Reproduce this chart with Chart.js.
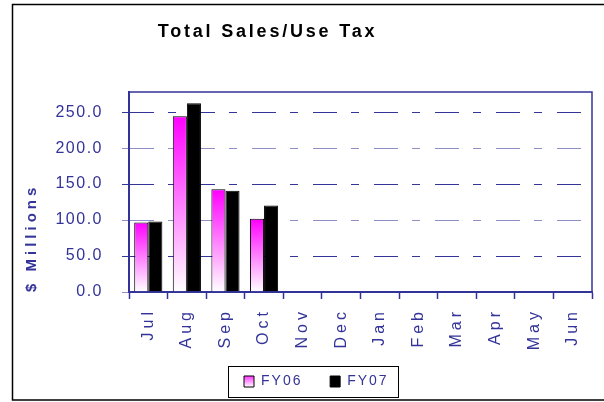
<!DOCTYPE html>
<html>
<head>
<meta charset="utf-8">
<script src="https://cdn.jsdelivr.net/npm/chart.js@4/dist/chart.umd.min.js"></script>
<style>
  html, body { margin: 0; padding: 0; background: #fff; }
  canvas { display: block; }
</style>
</head>
<body>
<canvas id="chart" width="604" height="402"></canvas>
<script>
const months = ['Jul', 'Aug', 'Sep', 'Oct', 'Nov', 'Dec', 'Jan', 'Feb', 'Mar', 'Apr', 'May', 'Jun'];
const fy06 = [96.7, 244.4, 142.7, 101.7, null, null, null, null, null, null, null, null];
const fy07 = [98.1, 262.5, 140.8, 120.4, null, null, null, null, null, null, null, null];
const seriesNames = ['FY06', 'FY07'];
const yMax = 278;
const yStep = 50;
const titleText = 'Total Sales/Use Tax';
const yTitle = '$ Millions';

const NAVY = '#333399';
const FONT = '"Liberation Sans", Arial, sans-serif';

Chart.defaults.font.family = FONT;
Chart.defaults.color = NAVY;

// magenta at the top of each bar fading to white at the base
function barGradient(c) {
  const chart = c.chart;
  const y = chart.scales.y;
  if (!y || c.raw == null) return '#ff00ff';
  const top = y.getPixelForValue(c.raw);
  const bottom = y.getPixelForValue(0);
  if (!isFinite(top) || !isFinite(bottom)) return '#ff00ff';
  const g = chart.ctx.createLinearGradient(0, top, 0, bottom);
  g.addColorStop(0, '#ff00ff');
  g.addColorStop(1, '#ffffff');
  return g;
}

function legendGradient(chart) {
  const lg = chart.legend;
  if (!lg || lg.top == null) return '#ff99ff';
  const top = lg.top + 11.5;
  const g = chart.ctx.createLinearGradient(0, top, 0, top + 11);
  g.addColorStop(0, '#ff33ff');
  g.addColorStop(1, '#ffffff');
  return g;
}

// draw a scale part with its own letter spacing
function spaced(scale, method, spacing) {
  if (scale['_sp_' + method]) return;
  const orig = scale[method];
  scale[method] = function (...args) {
    const ctx = this.ctx;
    ctx.save();
    ctx.letterSpacing = spacing;
    orig.apply(this, args);
    ctx.restore();
  };
  scale['_sp_' + method] = true;
}

const decor = {
  id: 'decor',
  beforeInit(chart) {
    const legend = chart.legend;
    const fit = legend.fit;
    legend.fit = function () { fit.call(this); this.height = 33.5; };
  },
  beforeUpdate(chart) { chart.ctx.letterSpacing = '2px'; },
  afterLayout(chart) {
    const lg = chart.legend;
    const pad = lg.options.labels.padding;
    const lineW = lg.legendHitBoxes.reduce((s, h) => s + h.width + pad, 0);
    const start = (lg.left + pad + lg.right - lineW) / 2;
    const dx = 244 - start;
    lg.left += dx;
    lg.right += dx;
    spaced(chart.scales.x, 'drawLabels', '4px');
    spaced(chart.scales.y, 'drawLabels', '1.5px');
    spaced(chart.scales.y, 'drawTitle', '4px');
  },
  beforeDraw(chart) { chart.ctx.letterSpacing = '2px'; },
  afterDraw(chart) {
    const ctx = chart.ctx;
    const a = chart.chartArea;
    ctx.save();
    // plot box
    ctx.strokeStyle = NAVY;
    ctx.lineWidth = 1.5;
    ctx.strokeRect(a.left, a.top, a.right - a.left, a.bottom - a.top);
    // title
    ctx.letterSpacing = '2.8px';
    ctx.font = 'bold 18px ' + FONT;
    ctx.fillStyle = '#000';
    ctx.textAlign = 'center';
    ctx.textBaseline = 'middle';
    ctx.fillText(titleText, 267.5, 32);
    // legend frame
    const hb = chart.legend.legendHitBoxes[0];
    ctx.strokeStyle = '#000';
    ctx.lineWidth = 1;
    ctx.strokeRect(Math.round(hb.left - 16) + 0.5, Math.round(chart.legend.top + 1.5) + 0.5, 170, 31);
    // outer frame
    ctx.lineWidth = 1.5;
    ctx.beginPath();
    ctx.moveTo(604, 4.5);
    ctx.lineTo(12.5, 4.5);
    ctx.lineTo(12.5, 400);
    ctx.lineTo(604, 400);
    ctx.stroke();
    ctx.restore();
  }
};

new Chart(document.getElementById('chart'), {
  type: 'bar',
  data: {
    labels: months,
    datasets: [
      {
        label: seriesNames[0],
        data: fy06,
        backgroundColor: barGradient,
        borderColor: '#000',
        borderWidth: 1
      },
      {
        label: seriesNames[1],
        data: fy07,
        backgroundColor: '#000',
        borderColor: '#000',
        borderWidth: 1
      }
    ]
  },
  options: {
    responsive: false,
    animation: false,
    layout: { padding: { left: 14, right: 12, top: 92, bottom: 4 } },
    datasets: { bar: { categoryPercentage: 0.73, barPercentage: 1.0 } },
    plugins: {
      tooltip: { enabled: false },
      legend: {
        position: 'bottom',
        labels: {
          color: NAVY,
          font: { size: 14 },
          boxWidth: 10,
          boxHeight: 11,
          padding: 10,
          generateLabels(chart) {
            const items = Chart.defaults.plugins.legend.labels.generateLabels(chart);
            items.forEach((it, i) => {
              it.strokeStyle = '#000';
              it.lineWidth = 1;
              it.fontColor = NAVY;
              if (i === 0) {
                it.text += '   ';
                it.fillStyle = legendGradient(chart);
              } else {
                it.fillStyle = '#000';
              }
            });
            return items;
          }
        }
      }
    },
    scales: {
      x: {
        grid: { drawOnChartArea: false, drawTicks: true, tickLength: 7, tickColor: NAVY, tickWidth: 1.5, offset: true },
        border: { color: NAVY, width: 2 },
        ticks: { color: NAVY, font: { size: 16 }, minRotation: 90, maxRotation: 90, padding: 9, autoSkip: false },
        afterFit(s) { s.height = 72.5; }
      },
      y: {
        min: 0,
        max: yMax,
        ticks: {
          stepSize: yStep,
          includeBounds: false,
          color: NAVY,
          font: { size: 16 },
          padding: 19,
          callback: v => v.toFixed(1)
        },
        grid: {
          color: c => (c.index % 2 === 0 ? '#8f8fc8' : NAVY),
          lineWidth: 1,
          tickLength: 7,
          tickBorderDash: []
        },
        border: { color: NAVY, width: 2, dash: [24, 14, 8, 15] },
        title: {
          display: true,
          text: yTitle,
          align: 'start',
          color: NAVY,
          font: { size: 15, weight: 'bold' },
          padding: { top: 9, bottom: 0 }
        },
        afterFit(s) { s.width = 115; }
      }
    }
  },
  plugins: [decor]
});
</script>
</body>
</html>
